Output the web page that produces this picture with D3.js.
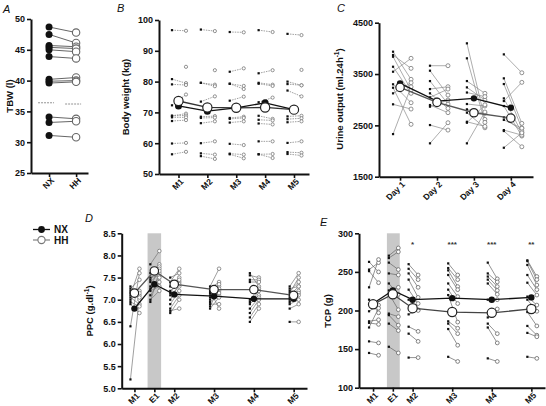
<!DOCTYPE html>
<html><head><meta charset="utf-8">
<script src="https://cdn.jsdelivr.net/npm/d3@7"></script>
<style>
body{margin:0;background:#fff}
text{font-family:"Liberation Sans",Arial,sans-serif}
</style>
</head><body>
<svg id="chart" width="546" height="406"></svg>
<script>
// ---------------- DATA ----------------
// Panel A: total body water (l)
const tbwGroups = ["NX", "HH"];
const tbwNX = [48.7, 47.5, 45.7, 45.4, 45.0, 43.9, 40.2, 39.9, 39.6, 34.1, 33.2, 31.1];
const tbwHH = [47.8, 46.1, 45.5, 45.2, 44.7, 43.6, 40.5, 40.0, 39.8, 33.8, 33.4, 30.8];
const tbwMeans = [36.4, 36.2];
const tbwTicks = [25, 30, 35, 40, 45, 50];

// Panel B: body weight (kg)
const bwTimes = ["M1", "M2", "M3", "M4", "M5"];
const bwNX = [
  [96.7, 80.8, 79.1, null, 72.3, 68.9, 68.9, 68.4, 67.2, 59.9, 56.4],
  [96.9, 79.6, 79.6, null, 73.5, 68.6, 68.2, 66.5, 60.0, 56.7, 55.8],
  [96.1, 79.3, 79.3, 83.2, 73.8, 68.2, 67.9, 66.7, 59.8, 56.6, 56.4],
  [96.7, 79.6, 79.3, 82.7, 73.3, 68.9, 67.6, 66.4, 60.6, 56.4, 56.4],
  [95.5, 80.0, 79.2, null, 77.1, 68.7, 67.8, 66.8, 60.1, 57.1, 56.5]
];
const bwHH = [
  [96.5, 79.5, 78.9, 84.8, 75.8, 69.6, 69.0, 68.4, 67.5, 60.1, 57.2],
  [96.4, 79.0, 78.5, 83.7, 75.2, 68.8, 68.3, 67.1, 60.6, 56.3, 54.9],
  [96.0, 78.6, 77.6, 84.3, 75.1, 68.6, 68.2, 67.1, 59.4, 56.3, 55.1],
  [96.1, 79.0, 78.6, 83.7, 74.8, 67.9, 67.4, 66.1, 60.6, 56.5, 55.2],
  [95.1, 78.8, 78.8, 83.8, 75.2, 68.9, 68.1, 67.1, 60.6, 56.9, 56.0]
];
const bwMeanNX = [72.1, 70.4, 71.5, 73.1, 70.9];
const bwMeanHH = [73.7, 71.6, 71.5, 71.6, 70.9];
const bwTicks = [50, 60, 70, 80, 90, 100];

// Panel C: urine output (ml.24h-1)
const uoDays = ["Day 1", "Day 2", "Day 3", "Day 4"];
const uoNX = [
  [3935, 3870, 3837, 3642, 3545, 3300, 3233, 3124, 2910, 2330],
  [3662, 3565, 3363, 3207, 3124, 3045, 2896, 2864, 2506, 2150],
  [4098, 3806, 3363, 3240, 3140, 2916, 2812, 2747, 2570, 2551, 2150],
  [3883, 3416, 3305, 3026, 2974, 2877, 2656, 2606, 2408, 2390, 2064]
];
const uoHH = [
  [3397, 3611, 3188, 3124, 3806, 2941, 2520, 3330, 2818, 3250],
  [3662, 3090, 2916, 3253, 2831, 3207, 2747, 2993, 2408, 2551],
  [2617, 2558, 3124, 2993, 3060, 2877, 2734, 2453, 2480, 2900, 2760],
  [3525, 2539, 2446, 2354, 3338, 2292, 2390, 2446, 2310, 2083, 2354]
];
const uoMeanNX = [3318, 2974, 3026, 2843];
const uoMeanHH = [3240, 2948, 2746, 2642];
const uoTicks = [1500, 2500, 3500, 4500];

// Panel D: plasma protein concentration (g.dl-1)
const tpLabels = ["M1", "E1", "M2", "M3", "M4", "M5"];
const tpPos = [0, 1, 2, 4, 6, 8];
const ppcNX = [
  [7.3, 7.25, 7.2, 7.15, 7.1, 7.05, 7.0, 6.95, 6.9, 6.4, 5.2],
  [7.8, 7.6, 7.5, 7.45, 7.4, 7.3, 7.25, 7.2, 7.1, 7.0, 6.95],
  [7.5, 7.4, 7.3, 7.2, 7.15, 7.1, 7.0, 6.9, 6.8, 6.75, 6.7],
  [7.3, 7.25, 7.2, 7.1, 7.05, 7.0, 6.95, 6.9, 6.85, 6.8, 7.15],
  [7.6, 7.55, 7.45, 7.4, 7.0, 6.95, 6.9, 6.8, 6.7, 6.6, 6.5],
  [7.3, 7.2, 7.15, 7.1, 7.05, 7.0, 6.95, 6.9, 6.8, 6.5, 7.25]
];
const ppcHH = [
  [7.1, 7.45, 7.0, 7.2, 7.7, 6.9, 7.15, 6.85, 6.7, 7.6, 7.05],
  [8.1, 7.8, 7.55, 7.75, 7.6, 7.7, 7.5, 7.3, 7.4, 7.2, 7.65],
  [7.6, 7.7, 7.5, 7.4, 7.45, 7.3, 7.35, 7.2, 7.1, 6.8, 7.0],
  [7.7, 7.4, 6.8, 7.3, 7.2, 7.35, 7.1, 6.9, 7.25, 7.05, 7.15],
  [7.3, 7.5, 7.45, 7.4, 7.25, 7.2, 7.1, 7.05, 7.0, 6.9, 6.8],
  [7.6, 7.4, 7.5, 7.3, 7.2, 7.15, 7.1, 7.0, 6.9, 6.5, 7.3]
];
const ppcMeanNX = [6.8, 7.35, 7.12, 7.08, 7.02, 7.02];
const ppcMeanHH = [7.15, 7.65, 7.35, 7.23, 7.23, 7.1];
const ppcTicks = [5.0, 5.5, 6.0, 6.5, 7.0, 7.5, 8.0, 8.5];

// Panel E: total circulating protein (g)
const tcpNX = [
  [263, 253, 251, 230, 214, 199, 186, 184, 178, 160, 145],
  [271, 268, 262, 248, 235, 222, 196, 194, 183, 153, 226],
  [260, 254, 248, 240, 227, 214, 195, 179, 170, 139],
  [261, 255, 252, 246, 235, 227, 220, 186, 183, 176, 140],
  [262, 248, 244, 240, 235, 214, 191, 183, 178, 138],
  [265, 264, 259, 246, 236, 218, 214, 198, 180, 171, 140]
];
const tcpHH = [
  [250, 262, 236, 266, 197, 207, 188, 182, 203, 158, 142],
  [281, 276, 253, 246, 221, 201, 192, 181, 174, 145, 230],
  [246, 240, 230, 217, 209, 201, 200, 173, 160, 139],
  [246, 240, 231, 227, 218, 209, 185, 177, 170, 155, 134],
  [241, 237, 231, 226, 221, 214, 202, 170, 158, 134],
  [244, 240, 233, 227, 220, 207, 199, 180, 168, 166, 138]
];
const tcpMeanNX = [209, 226, 214, 216, 214, 217];
const tcpMeanHH = [208, 221, 203, 198, 197, 202];
const tcpStars = ["", "", "*", "***", "***", "**"];
const tcpTicks = [100, 150, 200, 250, 300];

// ---------------- DRAWING ----------------
const svg = d3.select("#chart");
const FONT = '"Liberation Sans", Arial, sans-serif';

function yAxis(g, y, ticks, fmt, x0) {
  const ax = g.append("g").attr("transform", `translate(${x0},0)`)
    .call(d3.axisLeft(y).tickValues(ticks).tickFormat(fmt).tickSize(4).tickSizeOuter(0).tickPadding(2));
  ax.select(".domain").attr("stroke", "#111").attr("stroke-width", 2);
  ax.selectAll(".tick line").attr("stroke", "#111").attr("stroke-width", 1.6);
  ax.selectAll(".tick text").attr("font-family", FONT).attr("font-weight", "bold")
    .attr("font-size", 9).attr("fill", "#111");
  return ax;
}
function xAxis(g, x, vals, labels, y0) {
  const ax = g.append("g").attr("transform", `translate(0,${y0})`)
    .call(d3.axisBottom(x).tickValues(vals).tickFormat((d, i) => labels[i]).tickSize(4).tickSizeOuter(0));
  ax.select(".domain").attr("stroke", "#111").attr("stroke-width", 2);
  ax.selectAll(".tick line").attr("stroke", "#111").attr("stroke-width", 1.6);
  ax.selectAll(".tick text").attr("font-family", FONT).attr("font-weight", "bold")
    .attr("font-size", 8.5).attr("fill", "#111")
    .attr("y", 0).attr("dy", "0.35em").attr("text-anchor", "end")
    .attr("transform", "translate(3,6) rotate(-45)");
  return ax;
}
function yTitle(x, yc, parts) {
  const t = svg.append("text").attr("transform", `translate(${x},${yc}) rotate(-90)`)
    .attr("text-anchor", "middle").attr("font-family", FONT).attr("font-weight", "bold")
    .attr("font-size", 9.5).attr("fill", "#111");
  parts.forEach(p => {
    const s = t.append("tspan").text(p.t);
    if (p.sup) s.attr("font-size", 6.5).attr("dy", -4);
    if (p.down) s.attr("dy", 4);
  });
}
function letter(x, y, s) {
  svg.append("text").attr("x", x).attr("y", y).text(s).attr("font-family", FONT)
    .attr("font-style", "italic").attr("font-size", 11).attr("fill", "#111");
}

function pairedPanel(opt) {
  const g = svg.append("g");
  const { x, y, nx, hh, offN, offH, cats, mNX, mHH } = opt;
  cats.forEach((c, i) => {
    const xc = x(c);
    const a = nx[i], b = hh[i];
    a.forEach((v, k) => {
      const w = b[k];
      if (v != null && w != null) {
        g.append("line").attr("x1", xc + offN).attr("x2", xc + offH)
          .attr("y1", y(v)).attr("y2", y(w))
          .attr("stroke", opt.lineColor).attr("stroke-width", opt.lineW)
          .attr("stroke-dasharray", opt.dash || null);
      }
    });
    a.forEach(v => {
      if (v == null) return;
      g.append("rect").attr("x", xc + offN - opt.sq / 2).attr("y", y(v) - opt.sq / 2)
        .attr("width", opt.sq).attr("height", opt.sq).attr("fill", "#111");
    });
    b.forEach(w => {
      if (w == null) return;
      g.append("circle").attr("cx", xc + offH).attr("cy", y(w)).attr("r", opt.rOpen)
        .attr("fill", "#fff").attr("stroke", opt.openStroke).attr("stroke-width", 0.8);
    });
  });
  const line = d3.line().x((d, i) => x(cats[i])).y(d => y(d));
  g.append("path").datum(mHH).attr("d", line).attr("fill", "none")
    .attr("stroke", opt.meanHHColor).attr("stroke-width", 1.3);
  g.append("path").datum(mNX).attr("d", line).attr("fill", "none")
    .attr("stroke", "#111").attr("stroke-width", 1.3);
  mNX.forEach((v, i) => g.append("circle").attr("cx", x(cats[i])).attr("cy", y(v))
    .attr("r", opt.rMeanN).attr("fill", "#111"));
  mHH.forEach((v, i) => g.append("circle").attr("cx", x(cats[i])).attr("cy", y(v))
    .attr("r", opt.rMeanH).attr("fill", "#fff").attr("stroke", "#222").attr("stroke-width", 1.2));
  return g;
}

// ---- Panel A ----
{
  const y = d3.scaleLinear().domain([25, 50]).range([173, 19]);
  const x = d3.scaleLinear().domain([-0.667, 1.44]).range([31, 88]);
  const g = svg.append("g");
  xAxis(g, x, [0, 1], tbwGroups, 173);
  yAxis(g, y, tbwTicks, d3.format("d"), 31);
  tbwMeans.forEach((m, i) => {
    g.append("line").attr("x1", x(i) - 11).attr("x2", x(i) + 5).attr("y1", y(m)).attr("y2", y(m))
      .attr("stroke", "#777").attr("stroke-width", 0.8).attr("stroke-dasharray", "2,1");
  });
  tbwNX.forEach((v, k) => {
    g.append("line").attr("x1", x(0)).attr("x2", x(1)).attr("y1", y(v)).attr("y2", y(tbwHH[k]))
      .attr("stroke", "#555").attr("stroke-width", 0.9);
  });
  tbwNX.forEach(v => g.append("circle").attr("cx", x(0)).attr("cy", y(v)).attr("r", 3.5).attr("fill", "#111"));
  tbwHH.forEach(v => g.append("circle").attr("cx", x(1)).attr("cy", y(v)).attr("r", 3.7)
    .attr("fill", "#fff").attr("stroke", "#666").attr("stroke-width", 1.1));
  yTitle(13, 96, [{ t: "TBW (l)" }]);
  letter(3, 13, "A");
}

// ---- Panel B ----
{
  const y = d3.scaleLinear().domain([50, 100]).range([174, 20]);
  const x = d3.scaleLinear().domain([-0.675, 4.52]).range([159, 309]);
  const g = svg.append("g");
  xAxis(g, x, [0, 1, 2, 3, 4], bwTimes, 174);
  yAxis(g, y, bwTicks, d3.format("d"), 159);
  pairedPanel({ x, y, nx: bwNX, hh: bwHH, offN: -6.5, offH: 7.5, cats: [0, 1, 2, 3, 4],
    mNX: bwMeanNX, mHH: bwMeanHH, lineColor: "#777", lineW: 0.7, dash: "1.5,1",
    sq: 2.2, rOpen: 1.6, openStroke: "#777", meanHHColor: "#333", rMeanN: 3.5, rMeanH: 4.6 });
  yTitle(129, 97, [{ t: "Body weight (kg)" }]);
  letter(117, 12, "B");
}

// ---- Panel C ----
{
  const y = d3.scaleLinear().domain([1500, 4500]).range([176.7, 22.7]);
  const x = d3.scaleLinear().domain([-0.57, 3.6]).range([379, 533]);
  const g = svg.append("g");
  xAxis(g, x, [0, 1, 2, 3], uoDays, 176.7);
  yAxis(g, y, uoTicks, d3.format("d"), 379);
  pairedPanel({ x, y, nx: uoNX, hh: uoHH, offN: -7, offH: 11, cats: [0, 1, 2, 3],
    mNX: uoMeanNX, mHH: uoMeanHH, lineColor: "#8a8a8a", lineW: 0.7,
    sq: 2.2, rOpen: 2.0, openStroke: "#777", meanHHColor: "#555", rMeanN: 3.2, rMeanH: 4.2 });
  yTitle(343, 99, [{ t: "Urine output (ml.24h" }, { t: "-1", sup: true }, { t: ")", down: true }]);
  letter(337, 12, "C");
}

// ---- Legend ----
{
  const g = svg.append("g");
  g.append("line").attr("x1", 33).attr("x2", 50).attr("y1", 229.5).attr("y2", 229.5).attr("stroke", "#111").attr("stroke-width", 1.3);
  g.append("circle").attr("cx", 41.5).attr("cy", 229.5).attr("r", 3.4).attr("fill", "#111");
  g.append("line").attr("x1", 33).attr("x2", 50).attr("y1", 240).attr("y2", 240).attr("stroke", "#777").attr("stroke-width", 1.1);
  g.append("circle").attr("cx", 41.5).attr("cy", 240).attr("r", 3.6).attr("fill", "#fff").attr("stroke", "#777").attr("stroke-width", 1.1);
  g.append("text").attr("x", 54).attr("y", 233).text("NX").attr("font-family", FONT).attr("font-weight", "bold").attr("font-size", 10).attr("fill", "#111");
  g.append("text").attr("x", 54).attr("y", 244).text("HH").attr("font-family", FONT).attr("font-weight", "bold").attr("font-size", 10).attr("fill", "#111");
}

// ---- Panel D ----
{
  const y = d3.scaleLinear().domain([5.0, 8.5]).range([388.3, 233.3]);
  const x = d3.scaleLinear().domain([-0.64, 8.67]).range([121.7, 307]);
  const g = svg.append("g");
  g.append("rect").attr("x", x(0.66)).attr("width", x(1.34) - x(0.66))
    .attr("y", y(8.5)).attr("height", y(5.0) - y(8.5)).attr("fill", "#c8c8c8");
  xAxis(g, x, tpPos, tpLabels, 388.3);
  yAxis(g, y, ppcTicks, d3.format(".1f"), 121.7);
  pairedPanel({ x, y, nx: ppcNX, hh: ppcHH, offN: -4, offH: 5, cats: tpPos,
    mNX: ppcMeanNX, mHH: ppcMeanHH, lineColor: "#777", lineW: 0.7,
    sq: 2.2, rOpen: 1.8, openStroke: "#777", meanHHColor: "#555", rMeanN: 3.2, rMeanH: 4.2 });
  yTitle(93, 311, [{ t: "PPC (g.dl" }, { t: "-1", sup: true }, { t: ")", down: true }]);
  letter(85, 222, "D");
}

// ---- Panel E ----
{
  const y = d3.scaleLinear().domain([100, 300]).range([387.7, 233.3]);
  const x = d3.scaleLinear().domain([-0.71, 8.69]).range([359, 545]);
  const g = svg.append("g");
  g.append("rect").attr("x", x(0.7)).attr("width", x(1.35) - x(0.7))
    .attr("y", y(300)).attr("height", y(100) - y(300)).attr("fill", "#c8c8c8");
  xAxis(g, x, tpPos, tpLabels, 387.7);
  yAxis(g, y, tcpTicks, d3.format("d"), 359);
  pairedPanel({ x, y, nx: tcpNX, hh: tcpHH, offN: -4, offH: 5.5, cats: tpPos,
    mNX: tcpMeanNX, mHH: tcpMeanHH, lineColor: "#666", lineW: 0.7,
    sq: 2.2, rOpen: 1.9, openStroke: "#666", meanHHColor: "#444", rMeanN: 3.2, rMeanH: 4.6 });
  tcpStars.forEach((s, i) => {
    if (!s) return;
    g.append("text").attr("x", x(tpPos[i])).attr("y", 247).attr("text-anchor", "middle")
      .text(s).attr("font-family", FONT).attr("font-weight", "bold").attr("font-size", 8).attr("fill", "#333");
  });
  yTitle(331, 311, [{ t: "TCP (g)" }]);
  letter(320, 226, "E");
}
</script>
</body></html>
